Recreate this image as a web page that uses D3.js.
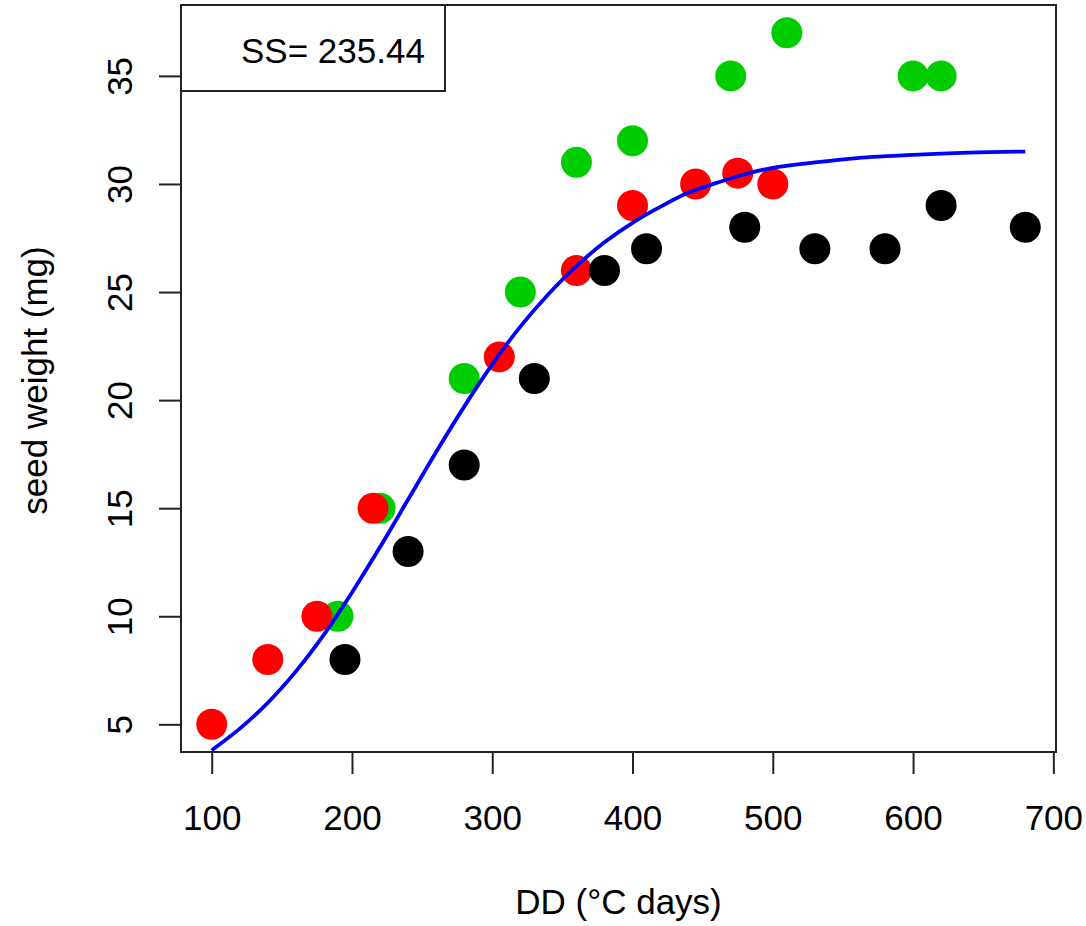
<!DOCTYPE html>
<html>
<head>
<meta charset="utf-8">
<script src="https://cdn.jsdelivr.net/npm/d3@7"></script>
<style>
  html, body { margin: 0; padding: 0; background: #fff; }
  svg { display: block; }
  text { font-family: "Liberation Sans", Arial, sans-serif; fill: #000; }
</style>
</head>
<body>
<svg id="chart" width="1086" height="926"></svg>
<script>
// Observed seed weight (mg) against accumulated degree-days, three groups
const blackDD = [195, 240, 280, 330, 380, 410, 480, 530, 580, 620, 680];
const blackWt = [8, 13, 17, 21, 26, 27, 28, 27, 27, 29, 28];
const redDD   = [100, 140, 175, 215, 305, 360, 400, 445, 475, 500];
const redWt   = [5, 8, 10, 15, 22, 26, 29, 30, 30.5, 30];
const greenDD = [190, 220, 280, 320, 360, 400, 470, 510, 600, 620];
const greenWt = [10, 15, 21, 25, 31, 32, 35, 37, 35, 35];

// Fitted growth curve, sampled along DD
const fitDD = [100, 120, 140, 160, 180, 200, 220, 240, 260, 280, 300, 320, 340, 360,
               380, 400, 420, 440, 460, 480, 500, 530, 560, 600, 640, 680];
const fitWt = [3.8, 4.8, 6.0, 7.45, 9.15, 11.1, 13.2, 15.4, 17.6, 19.7, 21.65, 23.4, 24.9, 26.2,
               27.3, 28.2, 28.95, 29.6, 30.05, 30.45, 30.75, 31.0, 31.2, 31.35, 31.45, 31.5];

const xTicks = [100, 200, 300, 400, 500, 600, 700];
const yTicks = [5, 10, 15, 20, 25, 30, 35];
const xLabel = "DD (°C days)";
const yLabel = "seed weight (mg)";
const ssLabel = "SS= 235.44";

const plot = { left: 181, right: 1056, top: 5, bottom: 752 };
const fontSize = 35;

const svg = d3.select("#chart");

const x = d3.scaleLinear().domain([78.1, 701.9]).range([plot.left, plot.right]);
const y = d3.scaleLinear().domain([3.72, 38.28]).range([plot.bottom, plot.top]);

// Bottom axis
const xAxis = svg.append("g")
  .attr("transform", `translate(0,${plot.bottom})`)
  .call(d3.axisBottom(x).tickValues(xTicks).tickFormat(d3.format("d")).tickSize(22).tickSizeOuter(0));
xAxis.select(".domain").remove();
xAxis.selectAll(".tick line").attr("stroke", "#222").attr("stroke-width", 2);
xAxis.selectAll(".tick text")
  .attr("y", 78).attr("dy", 0)
  .attr("font-size", fontSize)
  .attr("font-family", "Liberation Sans, Arial, sans-serif")
  .attr("fill", "#000");
xAxis.append("line")
  .attr("x1", x(xTicks[0])).attr("x2", x(xTicks[xTicks.length - 1]))
  .attr("stroke", "#222").attr("stroke-width", 2);

// Left axis with labels parallel to the axis
const yAxis = svg.append("g")
  .attr("transform", `translate(${plot.left},0)`)
  .call(d3.axisLeft(y).tickValues(yTicks).tickFormat(d3.format("d")).tickSize(22).tickSizeOuter(0));
yAxis.select(".domain").remove();
yAxis.selectAll(".tick line").attr("stroke", "#222").attr("stroke-width", 2);
yAxis.selectAll(".tick text")
  .attr("x", null).attr("y", null).attr("dy", 0)
  .attr("text-anchor", "middle")
  .attr("transform", "translate(-49,0) rotate(-90)")
  .attr("font-size", fontSize)
  .attr("font-family", "Liberation Sans, Arial, sans-serif")
  .attr("fill", "#000");
yAxis.append("line")
  .attr("y1", y(yTicks[0])).attr("y2", y(yTicks[yTicks.length - 1]))
  .attr("stroke", "#222").attr("stroke-width", 2);

// Axis titles
svg.append("text")
  .attr("x", (plot.left + plot.right) / 2).attr("y", 914)
  .attr("text-anchor", "middle").attr("font-size", fontSize)
  .text(xLabel);
svg.append("text")
  .attr("transform", `translate(47,${(plot.top + plot.bottom) / 2 + 2}) rotate(-90)`)
  .attr("text-anchor", "middle").attr("font-size", fontSize)
  .text(yLabel);

// Observations
const r = 15.5;
function drawPoints(xs, ys, colour) {
  svg.append("g").selectAll("circle")
    .data(xs.map((d, i) => [d, ys[i]]))
    .join("circle")
    .attr("cx", d => x(d[0]))
    .attr("cy", d => y(d[1]))
    .attr("r", r)
    .attr("fill", colour);
}
drawPoints(greenDD, greenWt, "#00CD00");
drawPoints(redDD, redWt, "#FF0000");
drawPoints(blackDD, blackWt, "#000000");

// Fitted curve
const line = d3.line()
  .x((d, i) => x(fitDD[i]))
  .y(d => y(d))
  .curve(d3.curveCatmullRom);
svg.append("path")
  .attr("d", line(fitWt))
  .attr("fill", "none")
  .attr("stroke", "#0000FF")
  .attr("stroke-width", 3.8)
  .attr("stroke-linejoin", "round");

// Plot frame
svg.append("rect")
  .attr("x", plot.left).attr("y", plot.top)
  .attr("width", plot.right - plot.left).attr("height", plot.bottom - plot.top)
  .attr("fill", "none").attr("stroke", "#222").attr("stroke-width", 2);

// Goodness-of-fit box
svg.append("rect")
  .attr("x", plot.left).attr("y", plot.top)
  .attr("width", 264).attr("height", 86)
  .attr("fill", "#fff").attr("stroke", "#222").attr("stroke-width", 2);
svg.append("text")
  .attr("x", 241).attr("y", 63)
  .attr("font-size", fontSize)
  .text(ssLabel);
</script>
</body>
</html>
